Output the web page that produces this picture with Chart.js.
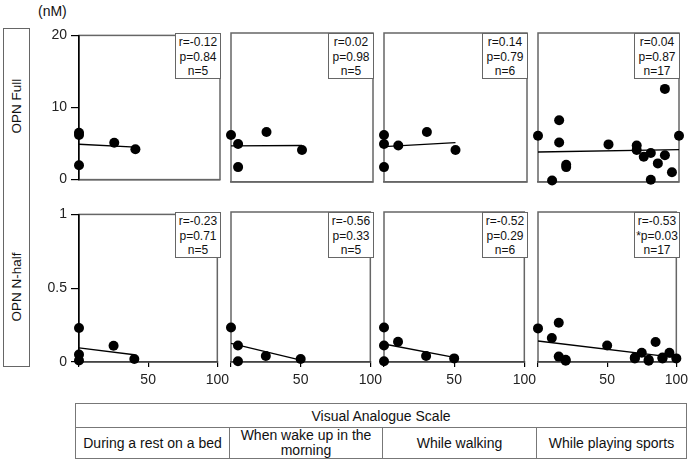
<!DOCTYPE html>
<html><head><meta charset="utf-8">
<script src="https://cdn.jsdelivr.net/npm/chart.js@4.4.1/dist/chart.umd.min.js"></script>
<style>
html,body{margin:0;padding:0;background:#fff;}
body{width:697px;height:465px;position:relative;overflow:hidden;font-family:"Liberation Sans",Arial,sans-serif;color:#111;}
canvas{position:absolute;}
.stat{position:absolute;background:#fff;border:1px solid #666;box-sizing:border-box;text-align:center;font-size:12px;line-height:14.5px;padding-top:1px;white-space:nowrap;}
.rowbox{position:absolute;left:3px;top:28px;width:27px;height:339px;border:1px solid #666;box-sizing:border-box;}
.rowlab{position:absolute;width:120px;height:18px;line-height:18px;text-align:center;font-size:13.5px;transform:rotate(-90deg);}
.unit{position:absolute;left:38px;top:3px;font-size:14px;}
table.vas{position:absolute;left:75px;top:403px;width:611px;border-collapse:collapse;font-size:14px;table-layout:fixed;}
table.vas td{border:1px solid #777;text-align:center;padding:0;}
</style>
</head><body>
<div class="unit">(nM)</div>
<div class="rowbox"></div>
<div class="rowlab" id="lab0"></div>
<div class="rowlab" id="lab1"></div>
<table class="vas">
<colgroup><col style="width:154px"><col style="width:153px"><col style="width:154px"><col style="width:150px"></colgroup>
<tr style="height:24px"><td colspan="4" id="vasTitle"></td></tr>
<tr style="height:31px" id="catRow"></tr>
</table>
<script>
// ---- data ----
const categories = ["During a rest on a bed", "When wake up in the morning", "While walking", "While playing sports"];
const rowLabels = ["OPN Full", "OPN N-half"];
const axisTitle = "Visual Analogue Scale";
const unitLabel = "(nM)";

// VAS (x) values per situation
const vasBed = [0, 0, 0, 25, 40];
const vasMorning = [0, 5, 5, 25, 50];
const vasWalking = [0, 0, 0, 10, 30, 50];
const vasSports = [0, 10, 15, 15, 20, 20, 50, 70, 70, 75, 80, 80, 85, 90, 90, 95, 100];

// OPN Full (nM)
const fullBed = [6.5, 6.2, 2.0, 5.1, 4.2];
const fullMorning = [6.3, 5.1, 2.0, 6.7, 4.3];
const fullWalking = [6.3, 5.1, 2.0, 4.9, 6.7, 4.3];
const fullSports = [6.2, 0.2, 8.3, 5.3, 2.3, 2.0, 5.05, 4.9, 4.3, 3.4, 3.9, 0.3, 2.5, 3.6, 12.5, 1.3, 6.2];

// OPN N-half (nM)
const halfBed = [0.23, 0.05, 0.01, 0.11, 0.02];
const halfMorning = [0.23, 0.11, 0.005, 0.04, 0.02];
const halfWalking = [0.23, 0.11, 0.005, 0.135, 0.04, 0.024];
const halfSports = [0.224, 0.16, 0.262, 0.036, 0.009, 0.015, 0.11, 0.024, 0.03, 0.062, 0.009, 0.015, 0.133, 0.024, 0.03, 0.062, 0.024];

// regression line end points [x0, y0, x1, y1]
const fitFull = [[0, 4.9, 40, 4.5], [0, 4.85, 50, 4.9], [0, 4.74, 50, 5.28], [0, 4.03, 100, 4.34]];
const fitHalf = [[0, 0.096, 40, 0.049], [0, 0.124, 50, 0.013], [0, 0.12, 50, 0.031], [0, 0.14, 100, 0.029]];

// statistics
const rFull = ["-0.12", "0.02", "0.14", "0.04"];
const pFull = ["0.84", "0.98", "0.79", "0.87"];
const rHalf = ["-0.23", "-0.56", "-0.52", "-0.53"];
const pHalf = ["0.71", "0.33", "0.29", "*p=0.03"];
const nCount = ["5", "5", "6", "17"];

// y axis ranges / ticks
const yMax = [20, 1];
const yStep = [10, 0.5];
const xTicks = [0, 50, 100];

// ---- layout ----
const colL = [79, 231, 384, 538], colR = [220, 373, 527, 679];
const rowT = [33, 212], rowB = [182, 362];

document.querySelector('.unit').textContent = unitLabel;
const lab0 = document.getElementById('lab0'), lab1 = document.getElementById('lab1');
lab0.textContent = rowLabels[0]; lab1.textContent = rowLabels[1];
lab0.style.left = (16.5 - 60) + 'px'; lab0.style.top = (106 - 9) + 'px';
lab1.style.left = (16.5 - 60) + 'px'; lab1.style.top = (287 - 9) + 'px';
document.getElementById('vasTitle').textContent = axisTitle;
const catRow = document.getElementById('catRow');
categories.forEach((c, i) => {
  const td = document.createElement('td');
  td.textContent = c;
  td.style.lineHeight = '15px';
  if (i === 1) { td.innerHTML = 'When wake up in the<br>morning'; }
  catRow.appendChild(td);
});

const framePlugin = {
  id: 'frame',
  beforeDraw(chart) {
    const { ctx, chartArea: a } = chart;
    ctx.save();
    ctx.strokeStyle = '#666';
    ctx.lineWidth = 1.5;
    ctx.strokeRect(a.left, a.top, a.right - a.left, a.bottom - a.top);
    ctx.restore();
  }
};

const xs = [vasBed, vasMorning, vasWalking, vasSports];
const ys = [[fullBed, fullMorning, fullWalking, fullSports], [halfBed, halfMorning, halfWalking, halfSports]];
const fits = [fitFull, fitHalf];
const rs = [rFull, rHalf], ps = [pFull, pHalf];

for (let r = 0; r < 2; r++) {
  for (let c = 0; c < 4; c++) {
    const showX = r === 1, showY = c === 0;
    const L = showY ? 50 : 8, R = 14, T = 10, B = showX ? 28 : 10;
    const pw = colR[c] - colL[c], ph = rowB[r] - rowT[r];
    const cv = document.createElement('canvas');
    cv.width = pw + L + R; cv.height = ph + T + B;
    cv.style.left = (colL[c] - L) + 'px'; cv.style.top = (rowT[r] - T) + 'px';
    document.body.appendChild(cv);

    const pts = xs[c].map((x, i) => ({ x: x, y: ys[r][c][i] }));
    const f = fits[r][c];
    new Chart(cv, {
      type: 'scatter',
      data: {
        datasets: [
          { type: 'line', data: [{ x: f[0], y: f[1] }, { x: f[2], y: f[3] }], borderColor: '#000', borderWidth: 1.3, pointRadius: 0, fill: false, clip: false, tension: 0 },
          { data: pts, backgroundColor: '#000', borderWidth: 0, pointRadius: 5, clip: false }
        ]
      },
      options: {
        responsive: false, animation: false, devicePixelRatio: 1,
        layout: { autoPadding: false, padding: { left: showY ? 0 : L, right: R, top: T, bottom: 0 } },
        plugins: { legend: { display: false }, tooltip: { enabled: false } },
        scales: {
          x: {
            type: 'linear', min: 0, max: 100,
            display: true,
            afterFit: s => { s.height = B; },
            afterBuildTicks: s => { s.ticks = xTicks.map(v => ({ value: v })); },
            ticks: { display: showX, font: { size: 14, family: 'Liberation Sans' }, color: '#222', padding: 5, maxRotation: 0, autoSkip: false, callback: v => v === 0 ? '' : String(v) },
            grid: { display: showX, drawOnChartArea: false, drawTicks: showX, tickLength: 5, color: '#000', lineWidth: 1.2 },
            border: { display: true, color: showX ? '#444' : '#666', width: 1.5 }
          },
          y: {
            type: 'linear', min: 0, max: yMax[r],
            display: showY,
            afterFit: s => { if (showY) s.width = 50; },
            ticks: { stepSize: yStep[r], font: { size: 14, family: 'Liberation Sans' }, color: '#222', padding: 4, callback: v => String(Math.round(v * 10) / 10) },
            grid: { display: true, drawOnChartArea: false, drawTicks: true, tickLength: 8, color: '#000', lineWidth: 1.2 },
            border: { display: true, color: '#000', width: 1.5 }
          }
        }
      },
      plugins: [framePlugin]
    });

    const box = document.createElement('div');
    box.className = 'stat';
    box.style.left = (colR[c] - 45) + 'px';
    box.style.top = rowT[r] + 'px';
    box.style.width = '46px';
    box.style.height = '46px';
    const pTxt = ps[r][c].startsWith('*') ? ps[r][c] : 'p=' + ps[r][c];
    box.innerHTML = 'r=' + rs[r][c] + '<br>' + pTxt + '<br>n=' + nCount[c];
    document.body.appendChild(box);
  }
}
</script>
</body></html>
